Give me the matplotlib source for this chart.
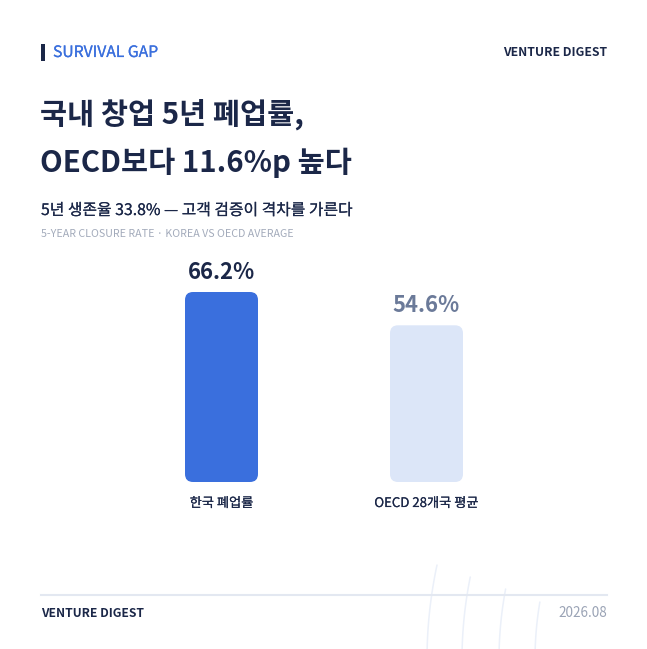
import matplotlib
matplotlib.use("Agg")
import matplotlib.pyplot as plt
import matplotlib.patheffects as pe
from matplotlib.patches import FancyBboxPatch, Rectangle
import numpy as np

plt.rcParams['font.family'] = ['Noto Sans CJK KR', 'DejaVu Sans']

# ---- data ----
categories = ["한국 폐업률", "OECD 28개국 평균"]
values = [66.2, 54.6]
value_labels = ["66.2%", "54.6%"]
kicker = "SURVIVAL GAP"
brand = "VENTURE DIGEST"
title_lines = ["국내 창업 5년 폐업률,", "OECD보다 11.6%p 높다"]
subtitle = "5년 생존율 33.8% — 고객 검증이 격차를 가른다"
caption = "5-YEAR CLOSURE RATE · KOREA VS OECD AVERAGE"
date_text = "2026.08"

W, H = 647, 649
NAVY = "#1b2748"
BLUE = "#3a6fdd"
LIGHT = "#dce6f8"
SLATE = "#6b7a99"
GREY = "#a3abbb"

def medium(color, lw=0.1):
    return [pe.withStroke(linewidth=lw, foreground=color)]

fig = plt.figure(figsize=(W / 100, H / 100), dpi=100)
fig.patch.set_facecolor("white")

def fx(x):
    return x / W

def fy(y):
    return 1 - y / H

# decorative arcs (bottom right)
deco = fig.add_axes([0, 0, 1, 1], zorder=0)
deco.set_xlim(0, W)
deco.set_ylim(H, 0)
deco.axis("off")
cx, cy = 883, 660
for r, ytop in zip([456, 421, 384, 348], [565, 577, 589, 602]):
    ys = np.linspace(ytop, H + 5, 100)
    xs = cx - np.sqrt(np.maximum(r**2 - (ys - cy)**2, 0))
    deco.plot(xs, ys, color="#ebf0f9", lw=1.1, solid_capstyle="round")

# header
fig.add_artist(Rectangle((fx(41), fy(61)), 3.5 / W, 17 / H, transform=fig.transFigure,
                         color=NAVY, lw=0))
fig.text(fx(53), fy(57), kicker, color=BLUE, fontsize=11.3,
         va="baseline", ha="left", path_effects=medium(BLUE, 0.15))
fig.text(fx(607), fy(56), brand, color=NAVY, fontsize=8.8, fontweight="bold",
         va="baseline", ha="right")

# title
fig.text(fx(40), fy(124), title_lines[0], color=NAVY, fontsize=21.2, fontweight="bold",
         va="baseline", ha="left")
fig.text(fx(40), fy(172), title_lines[1], color=NAVY, fontsize=21.2, fontweight="bold",
         va="baseline", ha="left")
fig.text(fx(41), fy(215), subtitle, color=NAVY, fontsize=11.4,
         va="baseline", ha="left", path_effects=medium(NAVY, 0.1))
fig.text(fx(41), fy(237.5), caption, color=GREY, fontsize=7.7,
         va="baseline", ha="left")

# bar chart axes
x_left_px, x_right_px = 119, 529
y_bottom_px = 482
px_per_unit = 190 / 66.2
ymax = 80
y_top_px = y_bottom_px - ymax * px_per_unit
ax = fig.add_axes([fx(x_left_px), fy(y_bottom_px), (x_right_px - x_left_px) / W,
                   (y_bottom_px - y_top_px) / H], zorder=1)
ax.set_xlim(-0.5, 1.5)
ax.set_ylim(0, ymax)
ax.axis("off")

x = np.arange(len(categories))
bar_w = 73 / 205
bars = ax.bar(x, values, width=bar_w, color=[BLUE, LIGHT])
# aspect correction for rounded corners
x_per_px = 2.0 / (x_right_px - x_left_px)
y_per_px = ymax / (y_bottom_px - y_top_px)
aspect = y_per_px / x_per_px
rad = 8 * x_per_px
for b in bars:
    b.set_visible(False)
    p = FancyBboxPatch((b.get_x(), b.get_y()), b.get_width(), b.get_height(),
                       boxstyle=f"round,pad=0,rounding_size={rad}",
                       mutation_aspect=aspect, facecolor=b.get_facecolor(),
                       edgecolor="none")
    ax.add_patch(p)

label_colors = [NAVY, SLATE]
for xi, v, lab, c in zip(x, values, value_labels, label_colors):
    ax.annotate(lab, (xi, v), xytext=(0, 13), textcoords="offset pixels",
                ha="center", va="baseline", fontsize=15.8, fontweight="bold", color=c)
for xi, cat in zip(x, categories):
    ax.annotate(cat, (xi, 0), xytext=(0, -25), textcoords="offset pixels",
                ha="center", va="baseline", fontsize=9.5, color=NAVY,
                path_effects=medium(NAVY, 0.1))

# footer
fig.add_artist(plt.Line2D([fx(41), fx(607)], [fy(595), fy(595)], color="#e3e8f1",
                          lw=1.5, transform=fig.transFigure))
fig.text(fx(41), fy(617), brand, color=NAVY, fontsize=8.7, fontweight="bold",
         va="baseline", ha="left")
fig.text(fx(607), fy(617), date_text, color="#9aa3b5", fontsize=9.8,
         va="baseline", ha="right")

fig.savefig("out.png", dpi=100, facecolor="white")
